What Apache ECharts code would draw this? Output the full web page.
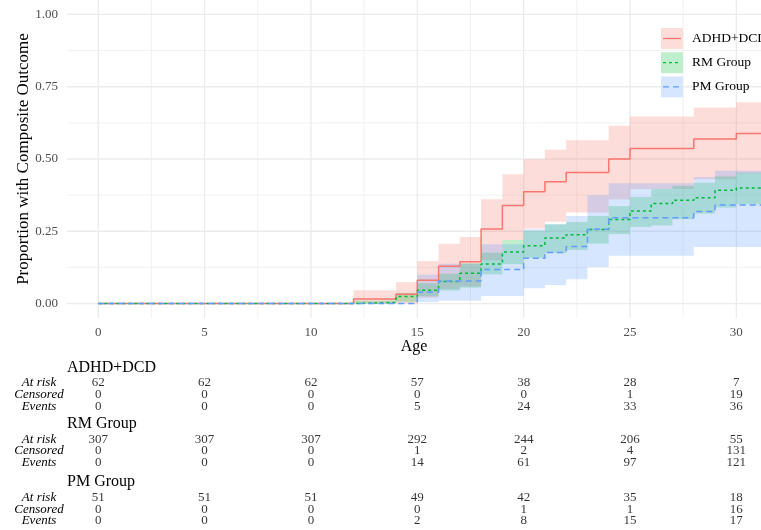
<!DOCTYPE html>
<html>
<head>
<meta charset="utf-8">
<script src="https://cdn.jsdelivr.net/npm/echarts@6/dist/echarts.min.js"></script>
<style>
html, body { margin: 0; padding: 0; background: #fff; }
#main { width: 761px; height: 530px; }
</style>
</head>
<body>
<div id="main"></div>
<script>
var groups = ['ADHD+DCD', 'RM Group', 'PM Group'];
var colors = ['#F8766D', '#00BA38', '#619CFF'];
var bandColors = ['rgba(248,118,109,0.25)', 'rgba(0,186,56,0.25)', 'rgba(97,156,255,0.25)'];
var keyColors = ['#fdddda', '#bfeecd', '#d7e6ff'];

// step curves: each value holds from time[i] until the next time
var adhdTime = [0, 12, 14, 15, 16, 17, 18, 19, 20, 21, 22, 24, 25, 28, 30];
var adhdEst  = [0, 0.016, 0.032, 0.081, 0.129, 0.145, 0.258, 0.339, 0.387, 0.421, 0.453, 0.500, 0.536, 0.569, 0.588];
var adhdLow  = [0, 0, 0, 0.020, 0.050, 0.060, 0.150, 0.220, 0.260, 0.283, 0.315, 0.360, 0.396, 0.430, 0.450];
var adhdHigh = [0, 0.046, 0.074, 0.147, 0.207, 0.230, 0.361, 0.447, 0.499, 0.532, 0.565, 0.615, 0.647, 0.678, 0.696];

var rmTime = [0, 12, 14, 15, 16, 17, 18, 19, 20, 21, 22, 23, 24, 25, 26, 27, 28, 29, 30];
var rmEst  = [0, 0.004, 0.024, 0.046, 0.076, 0.105, 0.137, 0.178, 0.200, 0.227, 0.238, 0.256, 0.291, 0.320, 0.346, 0.357, 0.366, 0.392, 0.400];
var rmLow  = [0, 0, 0.006, 0.025, 0.045, 0.055, 0.101, 0.136, 0.158, 0.175, 0.185, 0.207, 0.240, 0.265, 0.270, 0.292, 0.311, 0.332, 0.344];
var rmHigh = [0, 0.010, 0.037, 0.070, 0.103, 0.139, 0.176, 0.220, 0.251, 0.274, 0.282, 0.303, 0.337, 0.369, 0.396, 0.407, 0.418, 0.440, 0.453];

var pmTime = [0, 15, 16, 18, 20, 21, 22, 23, 24, 28, 29];
var pmEst  = [0, 0.039, 0.078, 0.118, 0.157, 0.177, 0.197, 0.257, 0.297, 0.318, 0.341];
var pmLow  = [0, 0.005, 0.010, 0.026, 0.053, 0.064, 0.084, 0.126, 0.165, 0.196, 0.196];
var pmHigh = [0, 0.100, 0.138, 0.205, 0.257, 0.274, 0.303, 0.375, 0.416, 0.438, 0.459];

// risk table
var riskTimes = [0, 5, 10, 15, 20, 25, 30];
var adhdRisk = [62, 62, 62, 57, 38, 28, 7];
var adhdCens = [0, 0, 0, 0, 0, 1, 19];
var adhdEvents = [0, 0, 0, 5, 24, 33, 36];
var rmRisk = [307, 307, 307, 292, 244, 206, 55];
var rmCens = [0, 0, 0, 1, 2, 4, 131];
var rmEvents = [0, 0, 0, 14, 61, 97, 121];
var pmRisk = [51, 51, 51, 49, 42, 35, 18];
var pmCens = [0, 0, 0, 0, 1, 1, 16];
var pmEvents = [0, 0, 0, 2, 8, 15, 17];

var xTicks = [0, 5, 10, 15, 20, 25, 30];
var xMinor = [2.5, 7.5, 12.5, 17.5, 22.5, 27.5];
var yTicks = [0, 0.25, 0.5, 0.75, 1];
var yMinor = [0.125, 0.375, 0.625, 0.875];

var xMin = -1.47, xMax = 31.16;
var serif = '"Liberation Serif", "DejaVu Serif", serif';

var curves = [
    {time: adhdTime, est: adhdEst, low: adhdLow, high: adhdHigh},
    {time: rmTime, est: rmEst, low: rmLow, high: rmHigh},
    {time: pmTime, est: pmEst, low: pmLow, high: pmHigh}
];
var tables = [
    [adhdRisk, adhdCens, adhdEvents],
    [rmRisk, rmCens, rmEvents],
    [pmRisk, pmCens, pmEvents]
];
var rowNames = ['At risk', 'Censored', 'Events'];

function gridLines(vals, vertical, width) {
    return {
        type: 'custom',
        xAxisIndex: 0, yAxisIndex: 0,
        z: 0,
        silent: true,
        data: vals.map(function (v) { return vertical ? [v, 0] : [0, v]; }),
        renderItem: function (params, api) {
            var cs = params.coordSys;
            var p = api.coord([api.value(0), api.value(1)]);
            var shape = vertical
                ? {x1: p[0], y1: cs.y, x2: p[0], y2: cs.y + cs.height}
                : {x1: cs.x, y1: p[1], x2: cs.x + cs.width, y2: p[1]};
            return {type: 'line', shape: shape, style: {stroke: '#ebebeb', lineWidth: width}};
        }
    };
}

var series = [
    gridLines(xMinor, true, 0.7),
    gridLines(yMinor, false, 0.7),
    gridLines(xTicks, true, 1.3),
    gridLines(yTicks, false, 1.3)
];

curves.forEach(function (c, i) {
    var band = [];
    for (var k = 0; k < c.time.length; k++) {
        var t1 = k + 1 < c.time.length ? c.time[k + 1] : xMax;
        band.push([c.time[k], t1, c.low[k], c.high[k]]);
    }
    series.push({
        type: 'custom',
        name: groups[i] + ' CI',
        z: 2,
        silent: true,
        data: band,
        encode: {x: [0, 1], y: [2, 3]},
        renderItem: function (params, api) {
            var a = api.coord([api.value(0), api.value(3)]);
            var b = api.coord([api.value(1), api.value(2)]);
            return {
                type: 'rect',
                shape: {x: a[0], y: a[1], width: b[0] - a[0], height: b[1] - a[1]},
                style: {fill: bandColors[i]}
            };
        }
    });
});

var dashes = ['solid', [3, 3], [6, 4]];
curves.forEach(function (c, i) {
    var pts = c.time.map(function (t, k) { return [t, c.est[k]]; });
    pts.push([xMax, c.est[c.est.length - 1]]);
    series.push({
        type: 'line',
        name: groups[i],
        step: 'end',
        z: 3,
        showSymbol: false,
        symbol: 'none',
        silent: true,
        data: pts,
        lineStyle: {color: colors[i], width: 1.5, type: dashes[i]}
    });
});

// risk table numbers
var tableTops = [377.2, 433.5, 491.9];
var grids = [{left: 67, right: 0, top: 0, height: 318}];
var xAxes = [{
    type: 'value', min: xMin, max: xMax,
    axisLine: {show: false}, axisTick: {show: false}, splitLine: {show: false},
    axisLabel: {
        customValues: xTicks, color: '#4d4d4d', fontFamily: serif, fontSize: 13, margin: 8
    },
    name: 'Age', nameLocation: 'middle', nameGap: 21, nameMoveOverlap: false,
    nameTextStyle: {color: '#000', fontFamily: serif, fontSize: 16}
}];
var yAxes = [{
    type: 'value', min: -0.05, max: 1.05,
    axisLine: {show: false}, axisTick: {show: false}, splitLine: {show: false},
    axisLabel: {
        customValues: yTicks, color: '#4d4d4d', fontFamily: serif, fontSize: 13, margin: 9,
        formatter: function (v) { return v.toFixed(2); }
    },
    name: 'Proportion with Composite Outcome', nameLocation: 'middle', nameGap: 35, nameMoveOverlap: false,
    nameTextStyle: {color: '#000', fontFamily: serif, fontSize: 17}
}];

var titles = [];
tables.forEach(function (rows, g) {
    var gi = g + 1;
    grids.push({left: 67, right: 0, top: tableTops[g], height: 34.8});
    xAxes.push({
        type: 'value', gridIndex: gi, min: xMin, max: xMax, show: false
    });
    yAxes.push({
        type: 'category', gridIndex: gi,
        data: rowNames.slice().reverse(),
        axisLine: {show: false}, axisTick: {show: false}, splitLine: {show: false},
        axisLabel: {
            interval: 0, hideOverlap: false,
            color: '#000', fontFamily: serif, fontSize: 13, fontStyle: 'italic',
            align: 'center', margin: 28
        }
    });
    titles.push({
        type: 'text', x: 67, y: tableTops[g] - 9.7,
        style: {text: groups[g], fill: '#000', font: '16px ' + serif, verticalAlign: 'middle'}
    });
    var pts = [];
    rows.forEach(function (vals, r) {
        riskTimes.forEach(function (t, k) {
            pts.push([t, rowNames[r], vals[k]]);
        });
    });
    series.push({
        type: 'scatter',
        xAxisIndex: gi, yAxisIndex: gi,
        symbolSize: 0.1,
        silent: true,
        itemStyle: {color: 'transparent'},
        data: pts,
        label: {
            show: true, position: 'inside', color: '#000',
            fontFamily: serif, fontSize: 13,
            formatter: function (p) { return p.value[2]; }
        }
    });
});

// legend drawn as key boxes like the original
var legendItems = [];
groups.forEach(function (g, i) {
    var top = 28 + i * 24.2;
    legendItems.push({
        type: 'rect', shape: {x: 661, y: top, width: 22, height: 21},
        style: {fill: keyColors[i]}, z: 10
    });
    legendItems.push({
        type: 'line', shape: {x1: 663, y1: top + 10.5, x2: 681, y2: top + 10.5},
        style: {stroke: colors[i], lineWidth: 1.3, lineDash: dashes[i] === 'solid' ? null : dashes[i]}, z: 11
    });
    legendItems.push({
        type: 'text', x: 692, y: top + 10.5, z: 11,
        style: {text: g, fill: '#000', font: '13.5px ' + serif, verticalAlign: 'middle'}
    });
});

var chart = echarts.init(document.getElementById('main'));
chart.setOption({
    animation: false,
    backgroundColor: '#fff',
    grid: grids,
    xAxis: xAxes,
    yAxis: yAxes,
    graphic: legendItems.concat(titles),
    series: series
});
</script>
</body>
</html>
